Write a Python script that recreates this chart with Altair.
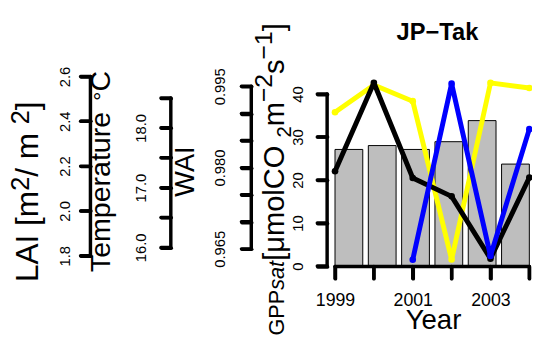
import altair as alt
import pandas as pd

# ---------------- data ----------------
years = [1999, 2000, 2001, 2002, 2003, 2004]
gpp_sat = [27.1, 28.0, 27.1, 28.9, 33.8, 23.7]
lai = [2.177, 2.572, 2.147, 2.065, 1.787, 2.149]
temperature = [18.26, 18.715, 18.446, 15.797, 18.751, 18.666]
wai_years = [2001, 2002, 2003, 2004]
wai = [0.9630, 0.9955, 0.9637, 0.9871]

lai_ticks = [1.8, 2.0, 2.2, 2.4, 2.6]
temp_ticks = [16.0, 16.5, 17.0, 17.5, 18.0, 18.5]
temp_labels = ["16.0", "17.0", "18.0"]
wai_ticks = [0.965, 0.970, 0.975, 0.980, 0.985, 0.990, 0.995]
wai_labels = ["0.965", "0.980", "0.995"]
gpp_ticks = [0, 10, 20, 30, 40]
year_labels = ["1999", "2001", "2003"]

chart_title = "JP−Tak"
x_title = "Year"

# ---------------- layout ----------------
FONT = "Liberation Sans"
W, H = 206, 194

year_dom = [1998.797, 2004.018]
bar_dom = [-0.084, 7.225]
gpp_dom = [-0.114, 44.28]
lai_dom = [1.7516, 2.6044]
temp_dom = [15.679, 18.875]
wai_dom = [0.96173, 0.99700]

df = pd.DataFrame({"year": years, "gpp": gpp_sat, "lai": lai, "temp": temperature})
df["bar0"] = [0.2 + 1.2 * i for i in range(len(years))]
df["bar1"] = df["bar0"] + 1.0
df["zero"] = 0.0
dfw = pd.DataFrame({"year": wai_years, "wai": wai})

TW = 3.5  # axis line width
TS = 10   # tick length


def sc(dom):
    return alt.Scale(domain=dom, nice=False, zero=False)


def label_expr(labels, fmt):
    arr = ",".join("'%s'" % s for s in labels)
    return f"indexof([{arr}], format(datum.value, '{fmt}')) >= 0 ? format(datum.value, '{fmt}') : ''"


def left_axis(values, offset, pad, fmt, labels=None):
    kw = dict(values=values, orient="left", offset=offset, domain=False,
              tickSize=TS, tickWidth=TW, tickColor="black", tickCap="round",
              labelAngle=270, labelAlign="center", labelBaseline="alphabetic",
              labelPadding=pad, labelFont=FONT, labelFontSize=15, labelColor="black",
              labelFlush=False, labelOverlap=False, labelBound=False, grid=False,
              title=None, format=fmt)
    if labels is not None:
        kw["labelExpr"] = label_expr(labels, fmt)
    return alt.Axis(**kw)


x_axis = alt.Axis(values=years, orient="bottom", domain=False, tickSize=12, tickWidth=TW,
                  tickColor="black", tickCap="round", labelFont=FONT, labelFontSize=18,
                  labelColor="black", labelBaseline="alphabetic", labelPadding=28,
                  labelFlush=False, labelOverlap=False, grid=False, title=None,
                  format="d", labelExpr=label_expr(year_labels, "d"))

layers = []

# bars (GPPsat)
layers.append(
    alt.Chart(df).mark_bar(fill="#BEBEBE", stroke="black", strokeWidth=1).encode(
        x=alt.X("bar0:Q", scale=sc(bar_dom), axis=None),
        x2="bar1",
        y=alt.Y("gpp:Q", scale=sc(gpp_dom), axis=left_axis(gpp_ticks, 0, 15, "d")),
        y2="zero",
    )
)


def series(data, field, dom, color, axis, xaxis=None):
    enc_x = alt.X("year:Q", scale=sc(year_dom), axis=xaxis)
    line = alt.Chart(data).mark_line(color=color, strokeWidth=5, strokeCap="round",
                                     strokeJoin="round").encode(
        x=enc_x, y=alt.Y(f"{field}:Q", scale=sc(dom), axis=axis))
    pts = alt.Chart(data).mark_circle(color=color, size=45, opacity=1).encode(
        x=alt.X("year:Q", scale=sc(year_dom), axis=None),
        y=alt.Y(f"{field}:Q", scale=sc(dom), axis=None))
    return [line, pts]


layers += series(df, "temp", temp_dom, "#FFFF00",
                 left_axis(temp_ticks, 158.7, 16, ".1f", temp_labels))
layers += series(df, "lai", lai_dom, "black",
                 left_axis(lai_ticks, 240.3, 11, ".1f"), xaxis=x_axis)
layers += series(dfw, "wai", wai_dom, "#0000FF",
                 left_axis(wai_ticks, 77, 17, ".3f", wai_labels))


def vaxis_lines(ticks, dom, offset):
    d = pd.DataFrame({"lo": [ticks[0]], "hi": [ticks[-1]]})
    spine = alt.Chart(d).mark_rule(color="black", strokeWidth=TW, strokeCap="round").encode(
        y=alt.Y("lo:Q", scale=sc(dom), axis=None), y2="hi:Q", x=alt.value(-offset))
    t = pd.DataFrame({"v": ticks})
    tk = alt.Chart(t).mark_rule(color="black", strokeWidth=TW, strokeCap="round").encode(
        y=alt.Y("v:Q", scale=sc(dom), axis=None),
        x=alt.value(-offset), x2=alt.value(-offset - TS))
    return [spine, tk]


layers += vaxis_lines(gpp_ticks, gpp_dom, 0)
layers += vaxis_lines(temp_ticks, temp_dom, 158.7)
layers += vaxis_lines(lai_ticks, lai_dom, 240.3)
layers += vaxis_lines(wai_ticks, wai_dom, 77)

xs = pd.DataFrame({"lo": [years[0]], "hi": [years[-1]]})
layers.append(
    alt.Chart(xs).mark_rule(color="black", strokeWidth=TW, strokeCap="round").encode(
        x=alt.X("lo:Q", scale=sc(year_dom), axis=None), x2="hi:Q", y=alt.value(H))
)
layers.append(
    alt.Chart(pd.DataFrame({"v": years})).mark_rule(color="black", strokeWidth=TW,
                                                    strokeCap="round").encode(
        x=alt.X("v:Q", scale=sc(year_dom), axis=None), y=alt.value(H), y2=alt.value(H + 12))
)

# ---------------- titles ----------------
WID = {'G': .778, 'P': .667, 's': .5, 'a': .556, 't': .278, ' ': .278, '[': .278, ']': .278,
       'μ': .576, 'm': .833, 'o': .556, 'l': .222, 'C': .722, 'O': .778, '2': .556, '1': .556,
       '−': .584, 'L': .556, 'A': .667, 'I': .278, '/': .278, 'T': .611, 'e': .556, 'p': .556,
       'r': .333, 'u': .556, '°': .4, 'W': .944}


def tw(s, size):
    return sum(WID.get(c, .556) for c in s) * size


def text_piece(s, x, y, size, angle=0, align="center", italic=False, bold=False):
    kw = dict(fontSize=size, font=FONT, color="black", align=align, baseline="alphabetic")
    if angle:
        kw["angle"] = angle
    if italic:
        kw["fontStyle"] = "italic"
    if bold:
        kw["fontWeight"] = "bold"
    return alt.Chart(pd.DataFrame({"t": [s]})).mark_text(**kw).encode(
        text="t:N", x=alt.value(x), y=alt.value(y))


def rotated(pieces, xbase, ycenter=None, ystart=None):
    total = sum(tw(s, sz) for s, sz, _, _ in pieces)
    y = ystart if ystart is not None else ycenter + total / 2
    out = []
    for s, sz, shift, it in pieces:
        out.append(text_piece(s, xbase + shift, y, sz, angle=270, align="left", italic=it))
        y -= tw(s, sz)
    return out


G1, G2 = 22, 29.5
layers += rotated([("GPP", G1, 0, False), ("sat", G1, 0, True), (" [μmolCO", G2, 0, False),
                   ("2", 0.7 * G2, 0.25 * G2, False), ("m", G2, 0, False),
                   ("−2", 0.85 * G2, -0.42 * G2, False), ("s", G2, 0, False),
                   ("−1", 0.85 * G2, -0.42 * G2, False), ("]", G2, 0, False)],
                  -44, ystart=264)
FL = 32
layers += rotated([("LAI [m", FL, 0, False), ("2", 0.8 * FL, -0.27 * FL, False),
                   (" / m", FL, 0, False), ("2", 0.8 * FL, -0.27 * FL, False),
                   ("]", FL, 0, False)], -294, ycenter=118)
FT = 29
layers += rotated([("Temperature ", FT, 0, False), ("°", 0.8 * FT, 0, False),
                   ("C", FT, 0, False)], -220, ycenter=97.5)
layers += rotated([("WAI", 27.5, 0, False)], -135, ycenter=97)

layers.append(text_piece(x_title, 108, 257, 28))
layers.append(text_piece(chart_title, 112, -36.3, 24, bold=True))

chart = alt.layer(*layers).resolve_scale(x="independent", y="independent").properties(
    width=W, height=H,
    padding={"left": 324, "top": 66, "right": 2, "bottom": 72},
    autosize=alt.AutoSizeParams(type="none"),
).configure_view(stroke=None)

chart.save("out.html", embed_options={"renderer": "svg", "actions": False})
